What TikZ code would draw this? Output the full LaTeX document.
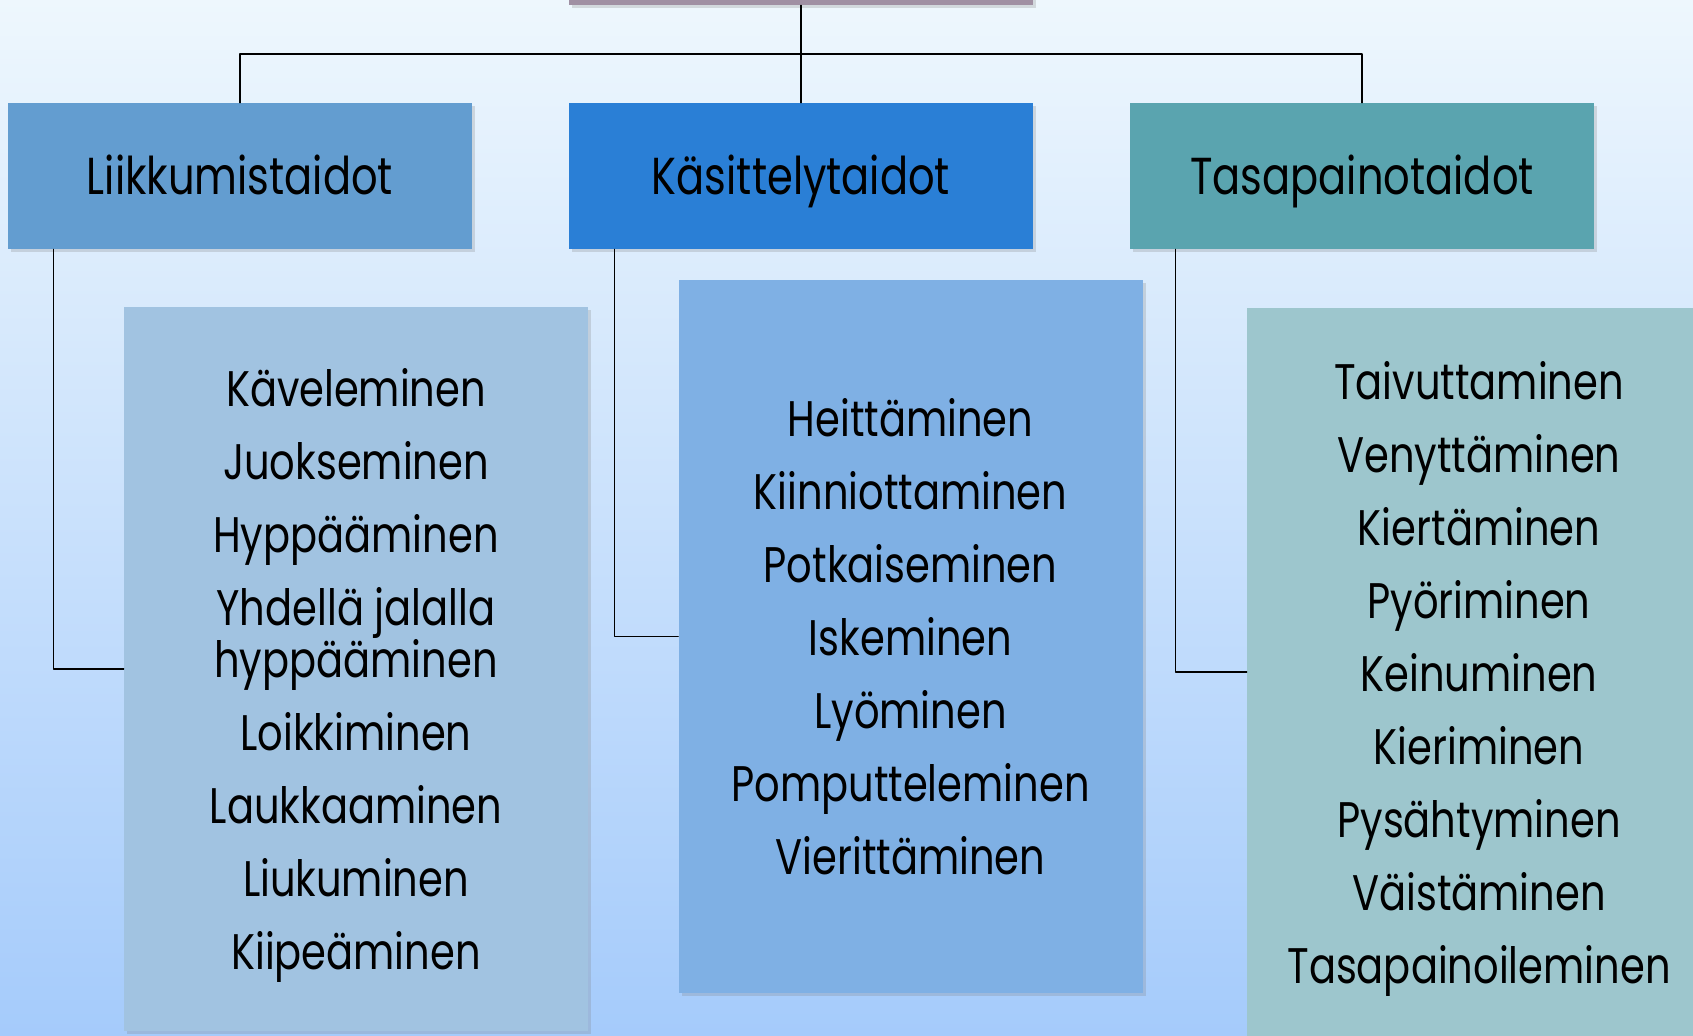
\documentclass[tikz,border=0pt]{standalone}
\usepackage{fontspec}
\setmainfont{Poppins}[FakeStretch=0.8]
\usepackage{tikz}
\usetikzlibrary{shadows}

\definecolor{ylatausta}{HTML}{EEF7FD}
\definecolor{keskitausta}{HTML}{D9EAFB}
\definecolor{alatausta}{HTML}{A5CBFB}
\definecolor{paavari}{HTML}{A090A3}
\definecolor{liikvari}{HTML}{639DD0}
\definecolor{kasivari}{HTML}{2A7FD6}
\definecolor{tasavari}{HTML}{5AA4AF}
\definecolor{liiklistavari}{HTML}{A1C3E1}
\definecolor{kasilistavari}{HTML}{7FB0E4}
\definecolor{tasalistavari}{HTML}{9DC6CD}

\begin{document}
\begin{tikzpicture}[line cap=round,line join=round,x=0.5pt,y=-0.5pt,
        laatikko/.style={rectangle,inner sep=0pt,minimum width=232pt,
            drop shadow={opacity=0.25,shadow xshift=1.5pt,shadow yshift=-1.5pt}},
        otsikko/.style={laatikko,minimum height=73pt,text height=18.5pt,text depth=0pt,
            font=\fontsize{26}{30}\selectfont},
        lista/.style={laatikko,align=center,font=\fontsize{25}{36.5}\selectfont},
        viiva/.style={line width=0.8pt,black}]
        \useasboundingbox (0,0) rectangle (1693,1035);
        \clip (0,0) rectangle (1693,1035);
        \shade[top color=ylatausta,middle color=keskitausta,bottom color=alatausta] (0,0) rectangle (1693,1035);
        % ylin laatikko, vain alareuna näkyy
        \node[laatikko,fill=paavari,minimum height=30pt] (paa) at (801,-25) {};
        \node[otsikko,fill=liikvari] (liik) at (240,176) {Liikkumistaidot};
        \node[otsikko,fill=kasivari] (kasi) at (801,176) {Käsittelytaidot};
        \node[otsikko,fill=tasavari] (tasa) at (1362,176) {Tasapainotaidot};
        \coordinate (haara) at (801,54);
        \node[lista,fill=liiklistavari,minimum height=362pt,text depth=0pt] (liiklista) at (356,669)
            {Käveleminen\\Juokseminen\\Hyppääminen\\Yhdellä jalalla\\[-10.5pt]hyppääminen\\Loikkiminen\\Laukkaaminen\\Liukuminen\\Kiipeäminen};
        \node[lista,fill=kasilistavari,minimum height=356.5pt] (kasilista) at (910.5,636.5)
            {Heittäminen\\Kiinniottaminen\\Potkaiseminen\\Iskeminen\\Lyöminen\\Pomputteleminen\\Vierittäminen};
        \node[lista,fill=tasalistavari,minimum height=364pt,text depth=0pt] (tasalista) at (1479,672)
            {Taivuttaminen\\Venyttäminen\\Kiertäminen\\Pyöriminen\\Keinuminen\\Kieriminen\\Pysähtyminen\\Väistäminen\\Tasapainoileminen};
        % yhteydet
        \draw[viiva] (paa.south) -- (kasi.north);
        \draw[viiva] (liik.north) |- (haara) -| (tasa.north);
        \draw[viiva] ([xshift=23pt]liik.south west) |- (liiklista.west);
        \draw[viiva] ([xshift=23pt]kasi.south west) |- (kasilista.west);
        \draw[viiva] ([xshift=23pt]tasa.south west) |- (tasalista.west);
    \end{tikzpicture}
\end{document}
